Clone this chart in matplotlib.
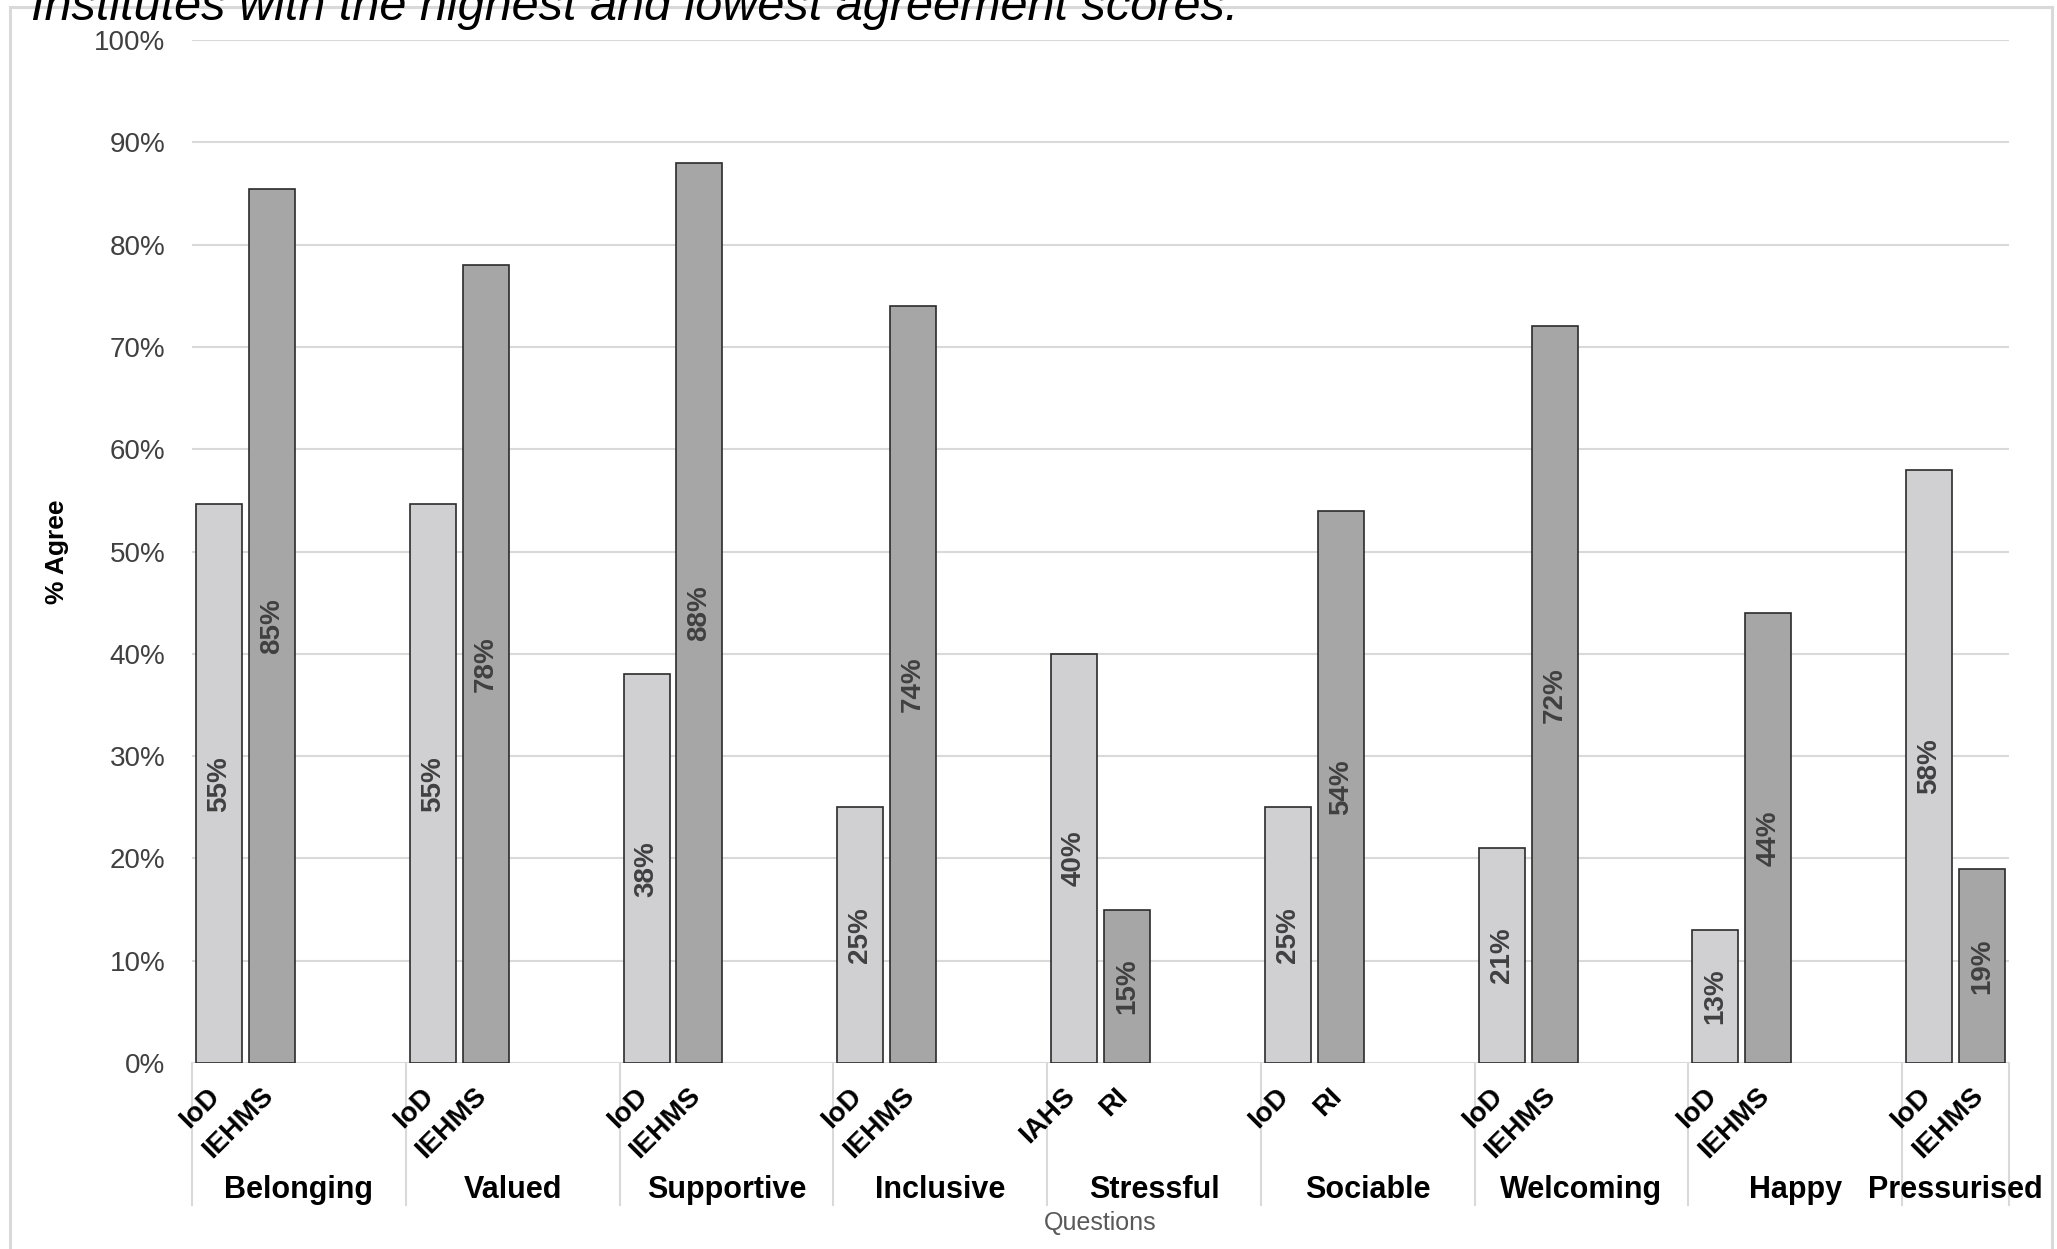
import numpy as np
import matplotlib
matplotlib.use("Agg")
import matplotlib.pyplot as plt
from matplotlib.transforms import blended_transform_factory
from matplotlib.patches import Rectangle

plt.rcParams['font.family'] = ['Liberation Sans', 'DejaVu Sans']

# data
questions = ["Belonging", "Valued", "Supportive", "Inclusive", "Stressful",
             "Sociable", "Welcoming", "Happy", "Pressurised"]
low_inst = ["IoD", "IoD", "IoD", "IoD", "IAHS", "IoD", "IoD", "IoD", "IoD"]
high_inst = ["IEHMS", "IEHMS", "IEHMS", "IEHMS", "RI", "RI", "IEHMS", "IEHMS", "IEHMS"]
first_vals = [54.6, 54.6, 38, 25, 40, 25, 21, 13, 58]
second_vals = [85.4, 78, 88, 74, 15, 54, 72, 44, 19]
yticks = np.arange(0, 101, 10)

W, H = 2057, 1249
fig = plt.figure(figsize=(W / 100, H / 100), dpi=100)

x_left, x_right = 192, 2009
y_top, y_base = 40, 1063
ax = fig.add_axes([x_left / W, 1 - y_base / H, (x_right - x_left) / W, (y_base - y_top) / H])

narrow = ['Liberation Sans Narrow', 'Liberation Sans', 'DejaVu Sans']
bw = 0.215
x = np.arange(len(questions))
b1 = ax.bar(x + 0.019, first_vals, bw, align='edge', color='#d0cfd1',
            edgecolor='#2b2b2b', linewidth=1.2, zorder=3)
b2 = ax.bar(x + 0.2665, second_vals, bw, align='edge', color='#a6a6a6',
            edgecolor='#2b2b2b', linewidth=1.2, zorder=3)

for bars, vals in [(b1, first_vals), (b2, second_vals)]:
    for r, v in zip(bars, vals):
        ax.text(r.get_x() + r.get_width() / 2, v / 2, f"{v:.0f}%", rotation=90,
                ha='center', va='center', fontsize=20, fontweight='bold',
                color='#404040', family=narrow, zorder=4)

ax.set_xlim(0, 8.5)
ax.set_ylim(0, 100)
ax.set_yticks(yticks)
ax.set_yticklabels([f"{t}%" for t in yticks], fontsize=20, color='#404040')
ax.tick_params(axis='y', length=0, pad=19)
ax.set_xticks([])
ax.yaxis.grid(True, color='#d9d9d9', linewidth=1.5, zorder=0)
ax.set_axisbelow(True)
for s in ax.spines.values():
    s.set_visible(False)

ax.set_ylabel("% Agree", fontsize=19, fontweight='bold', family=narrow)
ax.yaxis.set_label_coords(-0.0677, 0.5)

trans = blended_transform_factory(ax.transData, ax.transAxes)
axh = y_base - y_top
# group separators below the axis
for b in list(range(len(questions))) + [8.5]:
    ax.plot([b, b], [0, -142 / axh], transform=trans, color='#d9d9d9',
            linewidth=1.5, clip_on=False)

for i in range(len(questions)):
    ax.text(i + 0.019 + bw / 2 + 0.03, -20 / axh, low_inst[i], rotation=45,
            ha='right', va='top', fontsize=20, fontweight='bold', transform=trans)
    ax.text(i + 0.2665 + bw / 2 + 0.03, -20 / axh, high_inst[i], rotation=45,
            ha='right', va='top', fontsize=20, fontweight='bold', transform=trans)
    cx = i + 0.5 if i < len(questions) - 1 else i + 0.25
    ax.text(cx, -127 / axh, questions[i], ha='center', va='center',
            fontsize=22, fontweight='bold', transform=trans)

ax.text(0.5, -160 / axh, "Questions", ha='center', va='center', fontsize=18,
        color='#595959', transform=ax.transAxes)

fig.text(31 / W, 1 - 20 / H, "Institutes with the highest and lowest agreement scores.",
         fontsize=35, fontstyle='italic', va='baseline', ha='left')

fig.patches.append(Rectangle((10 / W, -0.05), (2052 - 10) / W, 1.05 - 7 / H,
                             transform=fig.transFigure, fill=False,
                             edgecolor='#d9d9d9', linewidth=2.2))

fig.savefig("out.png", dpi=100)
